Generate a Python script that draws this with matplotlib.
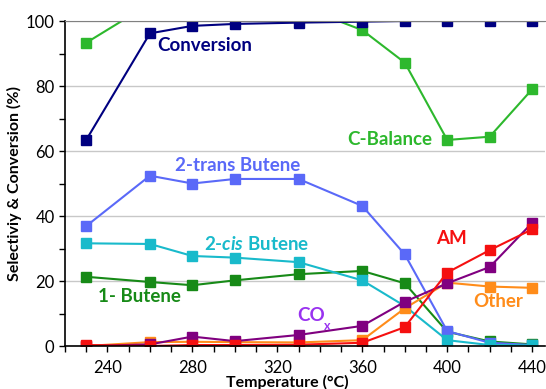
import numpy as np
import matplotlib
matplotlib.use('Agg')
import matplotlib.pyplot as plt
from matplotlib.ticker import MultipleLocator

plt.rcParams['font.family'] = ['Lato', 'DejaVu Sans']
plt.rcParams['mathtext.fontset'] = 'custom'
plt.rcParams['mathtext.rm'] = 'Lato:bold'
plt.rcParams['mathtext.it'] = 'Lato:italic:bold'
plt.rcParams['mathtext.bf'] = 'Lato:bold'

# reaction temperatures (degC)
temps = [230, 260, 280, 300, 330, 360, 380, 400, 420, 440]

# conversion and carbon balance (%)
conversion = [63.4, 96.2, 98.5, 99.1, 99.5, 99.8, 100.0, 100.0, 100.0, 100.0]
c_balance = [93.3, 105.3, 106.0, 105.5, 104.7, 97.2, 87.2, 63.4, 64.4, 79.0]

# product selectivities (%)
trans_butene = [36.9, 52.4, 50.0, 51.4, 51.4, 43.1, 28.2, 4.6, 1.0, 0.3]
cis_butene = [31.6, 31.4, 27.7, 27.2, 25.8, 20.2, 12.3, 1.8, 0.3, 0.2]
butene_1 = [21.3, 19.7, 18.7, 20.2, 22.1, 23.1, 19.3, 4.4, 1.4, 0.5]
cox = [0.0, 0.5, 2.9, 1.5, 3.4, 6.2, 13.6, 19.3, 24.3, 37.9]
other = [0.0, 1.2, 1.3, 1.2, 1.1, 1.8, 11.6, 19.5, 18.3, 17.9]
am = [0.3, 0.0, 0.3, 0.3, 0.4, 1.0, 5.8, 22.6, 29.5, 35.9]

fig = plt.figure(figsize=(5.46, 3.89), dpi=100)
ax = fig.add_axes([0.119, 0.1105, 0.879, 0.8355])

series = [
    (c_balance, '#2DB82D'),
    (conversion, '#000080'),
    (butene_1, '#178A17'),
    (trans_butene, '#5A69F8'),
    (cis_butene, '#19BACB'),
    (other, '#FF8C1A'),
    (cox, '#800080'),
    (am, '#F51010'),
]
for vals, col in series:
    ax.plot(temps, vals, color=col, lw=1.5, marker='s', ms=7, clip_on=True)

ax.set_xlim(220, 446)
ax.set_ylim(0, 100)
ax.xaxis.set_major_locator(MultipleLocator(40))
ax.xaxis.set_minor_locator(MultipleLocator(10))
ax.yaxis.set_major_locator(MultipleLocator(20))
ax.yaxis.set_minor_locator(MultipleLocator(10))
ax.tick_params(which='both', direction='out', length=4, width=1, labelsize=12,
               colors='black')
ax.tick_params(axis='x', pad=6)
ax.grid(axis='y', which='major', color='#C8C8C8', lw=1)
ax.set_axisbelow(True)
ax.spines['right'].set_visible(False)
ax.spines['top'].set_color('#808080')
ax.spines['left'].set_linewidth(1.2)
ax.spines['bottom'].set_linewidth(1.2)

ax.set_ylabel('Selectiviy & Conversion (%)', fontsize=11.5, fontweight='bold', labelpad=3)
fig.text(0.527, 0.006, 'Temperature (\u00b0C)', fontsize=11.5, fontweight='bold',
         ha='center', va='baseline')

lab = dict(fontsize=13.5, fontweight='bold', ha='center', va='center')
ax.text(286, 92.6, 'Conversion', color='#000080', **lab)
ax.text(373, 63.4, 'C-Balance', color='#2DB82D', **lab)
ax.text(301.4, 55.4, '2-trans Butene', color='#5A69F8', **lab)
ax.text(310, 31.4, r'2-$\it{cis}$ Butene', color='#19BACB', **lab)
ax.text(255, 15.2, '1- Butene', color='#178A17', **lab)
ax.text(336, 9.5, 'CO', color='#9932F0', **lab)
ax.text(343.5, 6.3, 'x', color='#9932F0', fontsize=9, fontweight='bold',
        ha='center', va='center')
ax.text(402, 33, 'AM', color='#F51010', **lab)
ax.text(424, 13.6, 'Other', color='#FF8C1A', **lab)

fig.savefig('out.png', dpi=100)
